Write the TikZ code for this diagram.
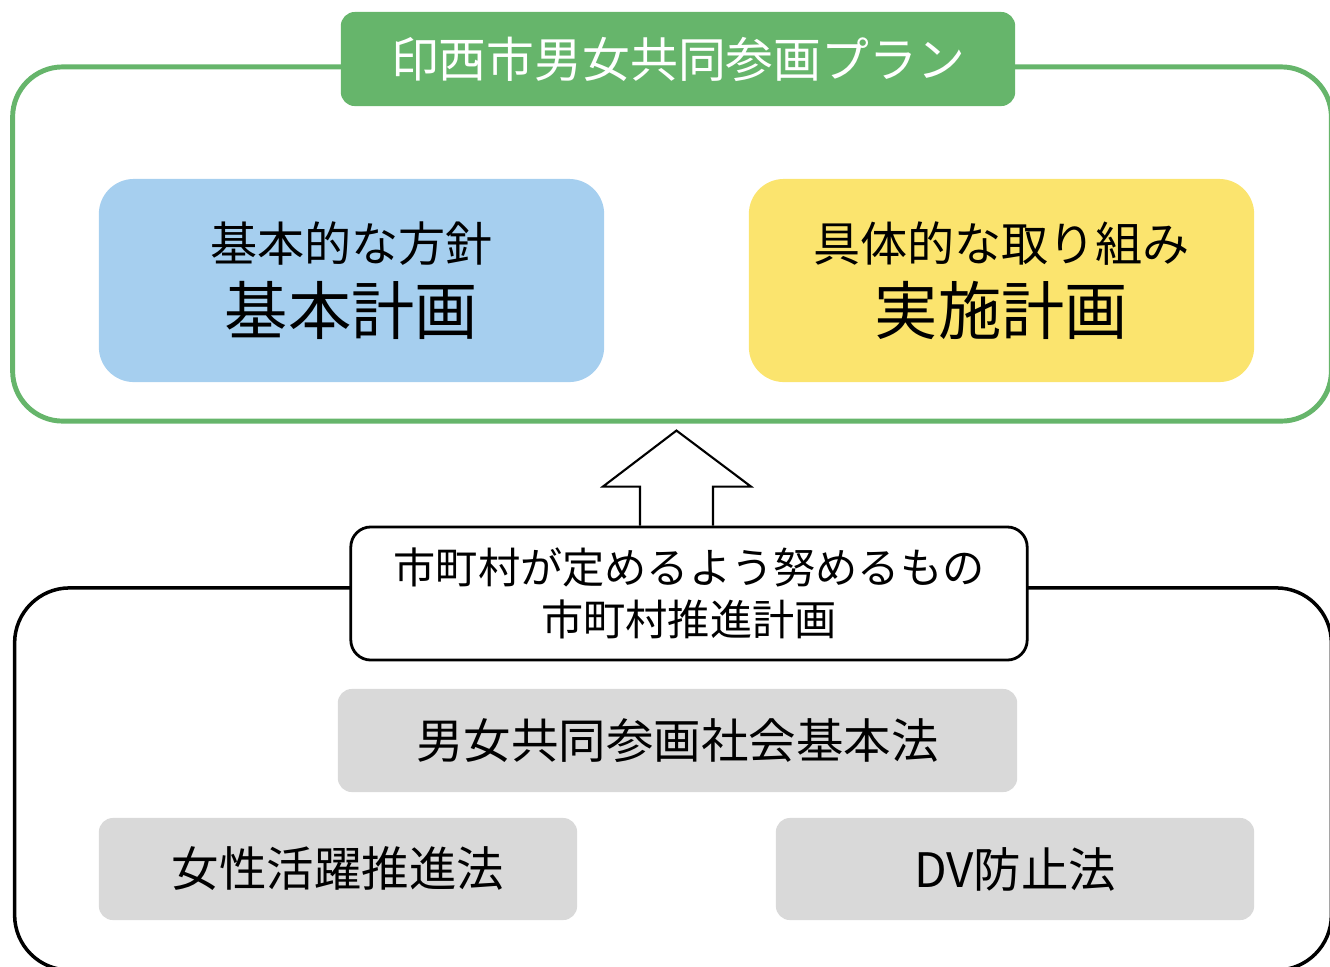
\documentclass[tikz,border=0pt]{standalone}
\usepackage{fontspec}
\setmainfont{Noto Sans CJK JP}
\usetikzlibrary{positioning}

\definecolor{plangreen}{HTML}{66B56B}
\definecolor{policyblue}{HTML}{A6CFEF}
\definecolor{actionyellow}{HTML}{FBE46E}
\definecolor{lawgray}{HTML}{D9D9D9}

\begin{document}
\begin{tikzpicture}[x=0.01cm, y=-0.01cm,
    frame/.style={draw, rectangle, rounded corners=0.5cm, inner sep=0pt},
    plainbox/.style={rectangle, inner sep=0pt, align=center},
    lawbox/.style={plainbox, fill=lawgray, rounded corners=0.14cm, minimum height=1.02cm, font=\fontsize{13.5pt}{16pt}\selectfont}]

        \useasboundingbox (0,0) rectangle (1330,966);

        % Frames
        \node [frame, draw=plangreen, line width=1.4pt, minimum width=13.18cm, minimum height=3.54cm] (planframe) at (672,244) {};
        \node [frame, draw=black, line width=1pt, rounded corners=0.55cm, minimum width=13.16cm, minimum height=3.82cm] (lawframe) at (673,779) {};

        % Nodes
        \node [plainbox, fill=plangreen, text=white, rounded corners=0.14cm, minimum width=6.74cm, minimum height=0.94cm, font=\fontsize{13.6pt}{16pt}\selectfont] (title) at (678,59) {印西市男女共同参画プラン};
        \node [plainbox, fill=policyblue, rounded corners=0.35cm, minimum width=5.05cm, minimum height=2.03cm] (policy) at (351.5,280.5)
            {{\fontsize{13.4pt}{16pt}\selectfont 基本的な方針}\\[3.5pt]{\fontsize{18pt}{20pt}\selectfont 基本計画}};
        \node [plainbox, fill=actionyellow, rounded corners=0.35cm, minimum width=5.05cm, minimum height=2.03cm] (action) at (1001.5,280.5)
            {{\fontsize{13.4pt}{16pt}\selectfont 具体的な取り組み}\\[3.5pt]{\fontsize{18pt}{20pt}\selectfont 実施計画}};
        \node [plainbox, draw, fill=white, line width=0.8pt, rounded corners=0.2cm, minimum width=6.76cm, minimum height=1.33cm, font=\fontsize{12pt}{15pt}\selectfont] (plan) at (689,593.5)
            {市町村が定めるよう努めるもの\\市町村推進計画};
        \node [lawbox, minimum width=6.79cm, minimum height=1.03cm] (basiclaw) at (677.5,740.5) {男女共同参画社会基本法};
        \node [lawbox, minimum width=4.78cm] (womenlaw) at (338,869) {女性活躍推進法};
        \node [lawbox, minimum width=4.78cm] (dvlaw) at (1015,869) {DV防止法};

        % Arrow
        \draw [line width=0.6pt, miter limit=10] ([xshift=-0.49cm]plan.north) -- ++(0,-39) -- ++(-37,0) -- ++(73.5,-56)
            -- ++(74.5,56) -- ++(-38,0) -- ++(0,39);

    \end{tikzpicture}
\end{document}
